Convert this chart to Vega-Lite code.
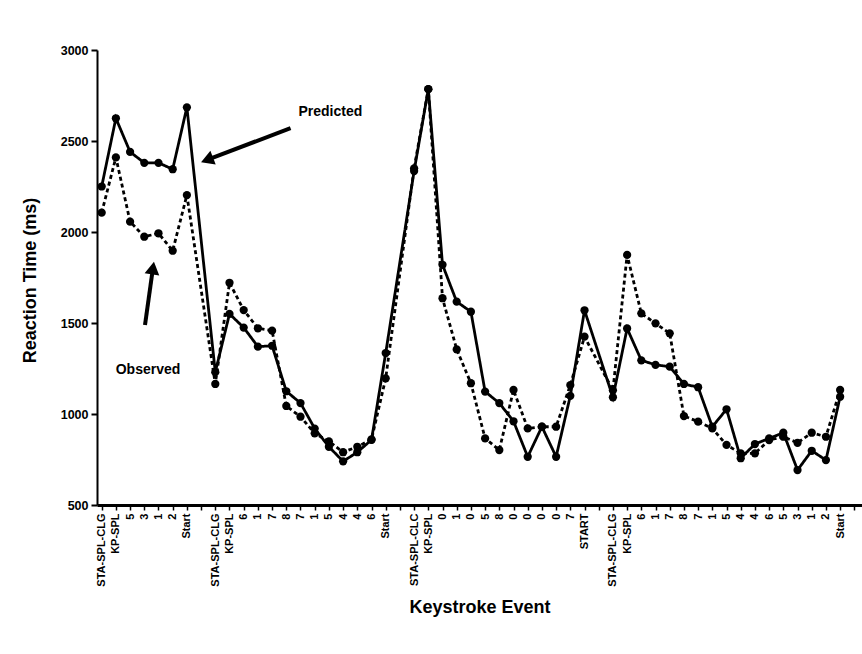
{
  "$schema": "https://vega.github.io/schema/vega-lite/v6.json",
  "width": 765,
  "height": 455,
  "autosize": {"type": "none"},
  "padding": {"left": 97, "top": 50, "right": 0, "bottom": 149},
  "background": "white",
  "config": {
    "view": {"stroke": null},
    "font": "Liberation Sans",
    "axis": {"grid": false, "domainColor": "black", "tickColor": "black", "labelColor": "black", "titleColor": "black", "labelFont": "Liberation Sans", "titleFont": "Liberation Sans", "labelFontWeight": "bold", "titleFontWeight": "bold"},
    "axisX": {"labelOverlap": false}
  },
  "datasets": {
    "rt": [
      {"i": 0, "series": "Predicted", "rt": 2250}, {"i": 1, "series": "Predicted", "rt": 2625}, {"i": 2, "series": "Predicted", "rt": 2440}, {"i": 3, "series": "Predicted", "rt": 2380}, {"i": 4, "series": "Predicted", "rt": 2380}, {"i": 5, "series": "Predicted", "rt": 2345}, {"i": 6, "series": "Predicted", "rt": 2685},
      {"i": 8, "series": "Predicted", "rt": 1230}, {"i": 9, "series": "Predicted", "rt": 1550}, {"i": 10, "series": "Predicted", "rt": 1475}, {"i": 11, "series": "Predicted", "rt": 1370}, {"i": 12, "series": "Predicted", "rt": 1375}, {"i": 13, "series": "Predicted", "rt": 1125}, {"i": 14, "series": "Predicted", "rt": 1060}, {"i": 15, "series": "Predicted", "rt": 920}, {"i": 16, "series": "Predicted", "rt": 820}, {"i": 17, "series": "Predicted", "rt": 740}, {"i": 18, "series": "Predicted", "rt": 790}, {"i": 19, "series": "Predicted", "rt": 858}, {"i": 20, "series": "Predicted", "rt": 1335},
      {"i": 22, "series": "Predicted", "rt": 2335}, {"i": 23, "series": "Predicted", "rt": 2785}, {"i": 24, "series": "Predicted", "rt": 1820}, {"i": 25, "series": "Predicted", "rt": 1617}, {"i": 26, "series": "Predicted", "rt": 1562}, {"i": 27, "series": "Predicted", "rt": 1123}, {"i": 28, "series": "Predicted", "rt": 1060}, {"i": 29, "series": "Predicted", "rt": 960}, {"i": 30, "series": "Predicted", "rt": 765}, {"i": 31, "series": "Predicted", "rt": 930}, {"i": 32, "series": "Predicted", "rt": 765}, {"i": 33, "series": "Predicted", "rt": 1100}, {"i": 34, "series": "Predicted", "rt": 1570},
      {"i": 36, "series": "Predicted", "rt": 1092}, {"i": 37, "series": "Predicted", "rt": 1470}, {"i": 38, "series": "Predicted", "rt": 1295}, {"i": 39, "series": "Predicted", "rt": 1270}, {"i": 40, "series": "Predicted", "rt": 1260}, {"i": 41, "series": "Predicted", "rt": 1165}, {"i": 42, "series": "Predicted", "rt": 1147}, {"i": 43, "series": "Predicted", "rt": 930}, {"i": 44, "series": "Predicted", "rt": 1026}, {"i": 45, "series": "Predicted", "rt": 757}, {"i": 46, "series": "Predicted", "rt": 835}, {"i": 47, "series": "Predicted", "rt": 866}, {"i": 48, "series": "Predicted", "rt": 897}, {"i": 49, "series": "Predicted", "rt": 692}, {"i": 50, "series": "Predicted", "rt": 798}, {"i": 51, "series": "Predicted", "rt": 747}, {"i": 52, "series": "Predicted", "rt": 1095},
      {"i": 0, "series": "Observed", "rt": 2106}, {"i": 1, "series": "Observed", "rt": 2410}, {"i": 2, "series": "Observed", "rt": 2057}, {"i": 3, "series": "Observed", "rt": 1974}, {"i": 4, "series": "Observed", "rt": 1993}, {"i": 5, "series": "Observed", "rt": 1897}, {"i": 6, "series": "Observed", "rt": 2203},
      {"i": 8, "series": "Observed", "rt": 1165}, {"i": 9, "series": "Observed", "rt": 1721}, {"i": 10, "series": "Observed", "rt": 1571}, {"i": 11, "series": "Observed", "rt": 1471}, {"i": 12, "series": "Observed", "rt": 1458}, {"i": 13, "series": "Observed", "rt": 1044}, {"i": 14, "series": "Observed", "rt": 985}, {"i": 15, "series": "Observed", "rt": 894}, {"i": 16, "series": "Observed", "rt": 850}, {"i": 17, "series": "Observed", "rt": 790}, {"i": 18, "series": "Observed", "rt": 820}, {"i": 19, "series": "Observed", "rt": 860}, {"i": 20, "series": "Observed", "rt": 1196},
      {"i": 22, "series": "Observed", "rt": 2350}, {"i": 23, "series": "Observed", "rt": 2785}, {"i": 24, "series": "Observed", "rt": 1636}, {"i": 25, "series": "Observed", "rt": 1355}, {"i": 26, "series": "Observed", "rt": 1169}, {"i": 27, "series": "Observed", "rt": 866}, {"i": 28, "series": "Observed", "rt": 802}, {"i": 29, "series": "Observed", "rt": 1132}, {"i": 30, "series": "Observed", "rt": 921}, {"i": 31, "series": "Observed", "rt": 930}, {"i": 32, "series": "Observed", "rt": 930}, {"i": 33, "series": "Observed", "rt": 1159}, {"i": 34, "series": "Observed", "rt": 1425},
      {"i": 36, "series": "Observed", "rt": 1130}, {"i": 37, "series": "Observed", "rt": 1874}, {"i": 38, "series": "Observed", "rt": 1553}, {"i": 39, "series": "Observed", "rt": 1498}, {"i": 40, "series": "Observed", "rt": 1443}, {"i": 41, "series": "Observed", "rt": 989}, {"i": 42, "series": "Observed", "rt": 958}, {"i": 43, "series": "Observed", "rt": 921}, {"i": 44, "series": "Observed", "rt": 830}, {"i": 45, "series": "Observed", "rt": 784}, {"i": 46, "series": "Observed", "rt": 784}, {"i": 47, "series": "Observed", "rt": 857}, {"i": 48, "series": "Observed", "rt": 875}, {"i": 49, "series": "Observed", "rt": 842}, {"i": 50, "series": "Observed", "rt": 897}, {"i": 51, "series": "Observed", "rt": 875}, {"i": 52, "series": "Observed", "rt": 1132}
    ]
  },
  "encoding": {
    "x": {
      "field": "i", "type": "quantitative",
      "scale": {"domain": [-0.33, 53.54], "nice": false, "zero": false},
      "axis": {
        "title": "Keystroke Event",
        "values": [0,1,2,3,4,5,6,7,8,9,10,11,12,13,14,15,16,17,18,19,20,21,22,23,24,25,26,27,28,29,30,31,32,33,34,35,36,37,38,39,40,41,42,43,44,45,46,47,48,49,50,51,52,53],
        "labelExpr": "['STA-SPL-CLG','KP-SPL','5','3','1','2','Start','','STA-SPL-CLG','KP-SPL','6','1','7','8','7','1','5','4','4','6','Start','','STA-SPL-CLC','KP-SPL','0','1','0','5','8','0','0','0','0','7','START','','STA-SPL-CLG','KP-SPL','6','1','7','8','7','1','5','4','4','6','5','3','1','2','Start',''][datum.value]",
        "labelAngle": -90,
        "labelFontSize": 11,
        "labelPadding": 3,
        "labelOverlap": false,
        "labelFlush": false,
        "labelBound": false,
        "domainWidth": 3,
        "tickWidth": 1.5,
        "tickSize": 5,
        "titleFontSize": 18,
        "titleY": 102,
        "titleBaseline": "middle"
      }
    },
    "y": {
      "field": "rt", "type": "quantitative",
      "scale": {"domain": [500, 3000], "nice": false, "zero": false},
      "axis": {
        "title": "Reaction Time (ms)",
        "values": [500, 1000, 1500, 2000, 2500, 3000],
        "format": "d",
        "labelFontSize": 12.5,
        "labelPadding": 3,
        "domainWidth": 2,
        "tickWidth": 2,
        "tickSize": 6,
        "titleFontSize": 18,
        "titleX": -67,
        "titleY": 230,
        "titleAngle": -90,
        "titleBaseline": "middle"
      }
    }
  },
  "layer": [
    {
      "data": {"name": "rt"},
      "mark": {"type": "line", "color": "black", "strokeWidth": 2.8},
      "encoding": {
        "detail": {"field": "series"},
        "strokeDash": {
          "field": "series", "type": "nominal",
          "scale": {"domain": ["Predicted", "Observed"], "range": [[1, 0], [4, 3]]},
          "legend": null
        }
      }
    },
    {
      "data": {"name": "rt"},
      "mark": {"type": "point", "filled": true, "color": "black", "size": 68, "opacity": 1},
      "encoding": {}
    },
    {
      "data": {"values": [
        {"i": 13.3, "rt": 2571, "i2": 7.42, "rt2": 2396},
        {"i": 3.05, "rt": 1489, "i2": 3.61, "rt2": 1802}
      ]},
      "mark": {"type": "rule", "color": "black", "strokeWidth": 4},
      "encoding": {
        "x2": {"field": "i2"},
        "y2": {"field": "rt2"}
      }
    },
    {
      "data": {"values": [{"i": 7.42, "rt": 2396}]},
      "mark": {"type": "point", "shape": "triangle-up", "filled": true, "color": "black", "opacity": 1, "size": 220, "angle": 249},
      "encoding": {}
    },
    {
      "data": {"values": [{"i": 3.61, "rt": 1802}]},
      "mark": {"type": "point", "shape": "triangle-up", "filled": true, "color": "black", "opacity": 1, "size": 220, "angle": 9},
      "encoding": {}
    },
    {
      "data": {"values": [
        {"i": 16.1, "rt": 2659, "note": "Predicted"},
        {"i": 3.26, "rt": 1242, "note": "Observed"}
      ]},
      "mark": {"type": "text", "font": "Liberation Sans", "fontWeight": "bold", "fontSize": 14, "color": "black", "align": "center", "baseline": "middle"},
      "encoding": {
        "text": {"field": "note"}
      }
    }
  ]
}
